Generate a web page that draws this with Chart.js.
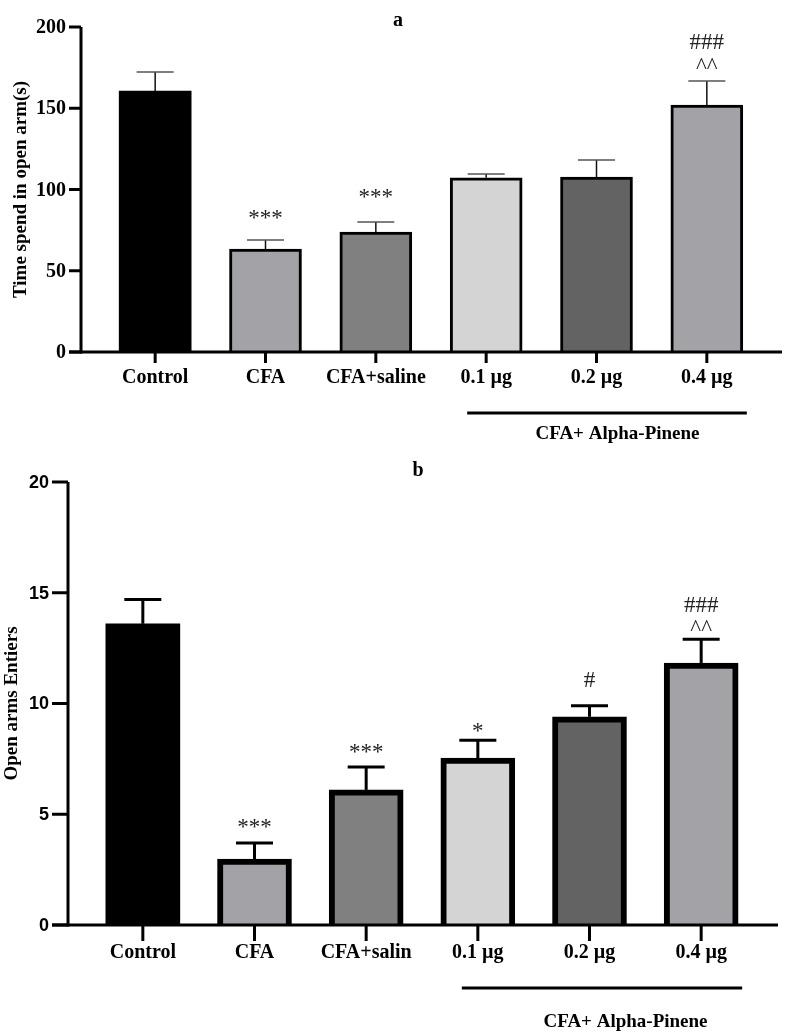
<!DOCTYPE html>
<html>
<head>
<meta charset="utf-8">
<script src="https://cdn.jsdelivr.net/npm/chart.js@4"></script>
<style>
  body { margin: 0; background: #fff; }
  .wrap { position: absolute; left: 0; width: 794px; }
  #boxA { top: 0; height: 445px; }
  #boxB { top: 445px; height: 590px; }
</style>
</head>
<body>
<div class="wrap" id="boxA"><canvas id="chartA" width="794" height="445"></canvas></div>
<div class="wrap" id="boxB"><canvas id="chartB" width="794" height="590"></canvas></div>
<script>
const groupsA = ["Control", "CFA", "CFA+saline", "0.1 µg", "0.2 µg", "0.4 µg"];
const groupsB = ["Control", "CFA", "CFA+salin", "0.1 µg", "0.2 µg", "0.4 µg"];

// time spent in open arm (s), mean and SEM
const timeMeans = [160.6, 63.4, 73.8, 107.2, 107.7, 152];
const timeErrors = [11.7, 5.5, 6.2, 2.4, 10.5, 14.8];
// open arm entries, mean and SEM
const entryMeans = [13.6, 2.98, 6.1, 7.54, 9.4, 11.83];
const entryErrors = [1.1, 0.72, 1.03, 0.8, 0.5, 1.07];

const timeMarks = [[], ["***"], ["***"], [], [], ["^^", "###"]];
const entryMarks = [[], ["***"], ["***"], ["*"], ["#"], ["^^", "###"]];

const timeTicks = [0, 50, 100, 150, 200];
const entryTicks = [0, 5, 10, 15, 20];

const fills = ["#000000", "#a3a3a7", "#808080", "#d4d4d4", "#636363", "#a3a3a7"];

const SERIF = "'Liberation Serif', 'Times New Roman', serif";
const SANS = "'Liberation Sans', Arial, sans-serif";

function line(ctx, x1, y1, x2, y2) {
  ctx.beginPath();
  ctx.moveTo(x1, y1);
  ctx.lineTo(x2, y2);
  ctx.stroke();
}

const framePlugin = {
  id: "frame",
  afterDatasetsDraw(chart, args, o) {
    const ctx = chart.ctx;
    const xs = chart.scales.x, ys = chart.scales.y;
    const area = chart.chartArea;
    const y0 = ys.getPixelForValue(0);
    const axisX = area.left - o.gap;
    ctx.save();

    // error bars + significance marks
    o.means.forEach((m, i) => {
      const x = xs.getPixelForValue(i);
      const yt = ys.getPixelForValue(m);
      const yc = ys.getPixelForValue(m + o.errors[i]);
      ctx.strokeStyle = o.errColor;
      ctx.lineWidth = o.errWidth;
      line(ctx, x, yt, x, yc);
      ctx.strokeStyle = o.capColor;
      line(ctx, x - o.cap / 2, yc, x + o.cap / 2, yc);

      ctx.fillStyle = "#222";
      ctx.font = "23px " + SERIF;
      ctx.textAlign = "center";
      ctx.textBaseline = "alphabetic";
      o.marks[i].forEach((t, k) => {
        ctx.fillText(t, x, yc - o.lift[i] - k * o.step);
      });
    });

    ctx.strokeStyle = "#000";
    ctx.fillStyle = "#000";
    ctx.lineWidth = 3;

    // y axis
    const yTop = ys.getPixelForValue(o.ticks[o.ticks.length - 1]);
    line(ctx, axisX, yTop, axisX, y0 + 1.5);
    ctx.font = o.tickFont;
    ctx.textAlign = "right";
    ctx.textBaseline = "middle";
    o.ticks.forEach(t => {
      const y = ys.getPixelForValue(t);
      line(ctx, axisX - o.tickLen, y, axisX, y);
      ctx.fillText(String(t), axisX - o.tickLen - 3, y + 1);
    });

    // x axis
    line(ctx, axisX - o.tickLen, y0, area.right + o.overhang, y0);
    ctx.font = "bold 20px " + SERIF;
    ctx.textAlign = "center";
    chart.data.labels.forEach((lab, i) => {
      const x = xs.getPixelForValue(i);
      line(ctx, x, y0, x, y0 + o.xTickLen);
      ctx.fillText(lab, x, y0 + o.labelDy);
    });

    // treatment bracket
    const bx1 = xs.getPixelForValue(3) - o.bracketL;
    const bx2 = xs.getPixelForValue(5) + o.bracketR;
    line(ctx, bx1, y0 + o.bracketDy, bx2, y0 + o.bracketDy);
    ctx.font = "bold 19px " + SERIF;
    ctx.fillText("CFA+ Alpha-Pinene", xs.getPixelForValue(4) + o.groupDx, y0 + o.groupDy);

    // panel letter
    ctx.font = "bold 20px " + SERIF;
    ctx.fillText(o.letter, o.letterX, o.letterY);

    // y title
    ctx.save();
    ctx.translate(o.titleX, (yTop + y0) / 2 + o.titleDy);
    ctx.rotate(-Math.PI / 2);
    ctx.font = "bold 19px " + SERIF;
    ctx.fillText(o.title, 0, 0);
    ctx.restore();

    ctx.restore();
  }
};

function makeChart(id, labels, means, borderW, barW, yMax, padding, frame) {
  return new Chart(document.getElementById(id), {
    type: "bar",
    data: {
      labels,
      datasets: [{
        data: means,
        backgroundColor: fills,
        borderColor: "#000",
        borderWidth: means.map((v, i) => i === 0 ? 0 : borderW),
        borderSkipped: "start",
        barThickness: barW
      }]
    },
    options: {
      responsive: false,
      animation: false,
      events: [],
      layout: { padding },
      plugins: { legend: { display: false }, tooltip: { enabled: false }, frame },
      scales: {
        x: { display: false, offset: true },
        y: { display: false, min: 0, max: yMax }
      }
    },
    plugins: [framePlugin]
  });
}

makeChart("chartA", groupsA, timeMeans, 3, 72, 200,
  { left: 100, right: 32, top: 27, bottom: 93 },
  {
    means: timeMeans, errors: timeErrors, marks: timeMarks, ticks: timeTicks,
    lift: [0, 15, 18, 0, 0, 8], step: 24,
    errColor: "#111", capColor: "#555", errWidth: 1.5, cap: 37,
    gap: 19, tickLen: 12, xTickLen: 11, overhang: 20, labelDy: 26,
    tickFont: "bold 20px " + SERIF,
    bracketL: 19, bracketR: 40, bracketDy: 61, groupDx: 21, groupDy: 82,
    letter: "a", letterX: 398, letterY: 21,
    title: "Time spend in open arm(s)", titleX: 21, titleDy: 0
  });

makeChart("chartB", groupsB, entryMeans, 6, 74, 20,
  { left: 87, right: 37, top: 37, bottom: 110 },
  {
    means: entryMeans, errors: entryErrors, marks: entryMarks, ticks: entryTicks,
    lift: [0, 9, 8, 2, 19, 4], step: 23,
    errColor: "#000", capColor: "#000", errWidth: 3, cap: 37,
    gap: 19, tickLen: 16, xTickLen: 16, overhang: 21, labelDy: 28,
    tickFont: "bold 18px " + SANS,
    bracketL: 16, bracketR: 41, bracketDy: 63, groupDx: 36, groupDy: 97,
    letter: "b", letterX: 418, letterY: 26,
    title: "Open arms Entiers", titleX: 12, titleDy: 0
  });
</script>
</body>
</html>
